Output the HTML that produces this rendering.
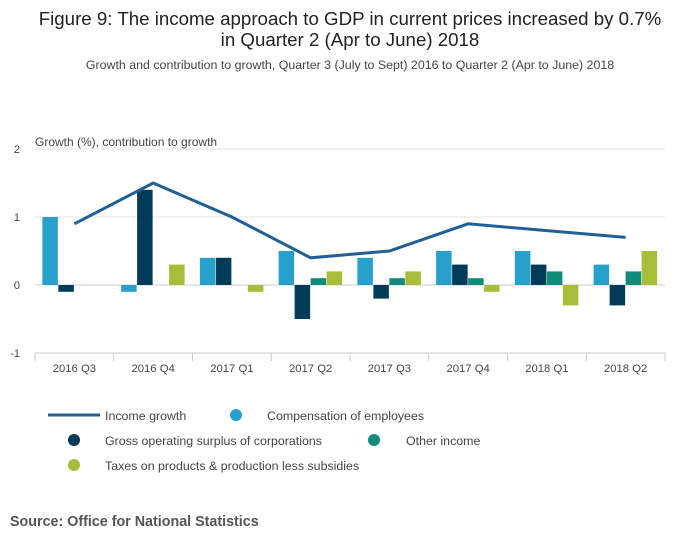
<!DOCTYPE html>
<html><head><meta charset="utf-8"><style>
body{margin:0;background:#fff;font-family:"Liberation Sans",sans-serif;}
#wrap{position:relative;width:700px;height:549px;overflow:hidden;}
</style></head><body>
<div id="wrap">
<svg id="svg" width="700" height="549" xmlns="http://www.w3.org/2000/svg">
<text x="350" y="25" text-anchor="middle" font-size="18.7" fill="#222">Figure 9: The income approach to GDP in current prices increased by 0.7%</text>
<text x="350" y="46" text-anchor="middle" font-size="18.7" fill="#222">in Quarter 2 (Apr to June) 2018</text>
<text x="350" y="69" text-anchor="middle" font-size="12.4" fill="#444">Growth and contribution to growth, Quarter 3 (July to Sept) 2016 to Quarter 2 (Apr to June) 2018</text>
<text x="35" y="146" font-size="12" fill="#444">Growth (%), contribution to growth</text>
<g id="grid"></g><g id="bars"></g><g id="line"></g><g id="xaxis"></g>
<g font-size="12.4" fill="#444">
<line x1="48" y1="415" x2="100" y2="415" stroke="#206095" stroke-width="3"/>
<text x="105" y="420">Income growth</text>
<circle cx="236" cy="415" r="6" fill="#27a0cc"/>
<text x="267" y="420">Compensation of employees</text>
<circle cx="74" cy="440" r="6" fill="#003c57"/>
<text x="105" y="445">Gross operating surplus of corporations</text>
<circle cx="374" cy="440" r="6" fill="#118c7b"/>
<text x="406" y="445">Other income</text>
<circle cx="74" cy="465" r="6" fill="#a8bd3a"/>
<text x="105" y="470">Taxes on products &amp; production less subsidies</text>
</g>
<text x="10" y="526" font-size="14.3" font-weight="bold" fill="#555">Source: Office for National Statistics</text>
</svg></div>
<script>
const categories=["2016 Q3","2016 Q4","2017 Q1","2017 Q2","2017 Q3","2017 Q4","2018 Q1","2018 Q2"];
const compensation=[1.0,-0.1,0.4,0.5,0.4,0.5,0.5,0.3];
const grossOperating=[-0.1,1.4,0.4,-0.5,-0.2,0.3,0.3,-0.3];
const otherIncome=[0,0,0,0.1,0.1,0.1,0.2,0.2];
const taxes=[0,0.3,-0.1,0.2,0.2,-0.1,-0.3,0.5];
const incomeGrowth=[0.9,1.5,1.0,0.4,0.5,0.9,0.8,0.7];
const yTicks=[2,1,0,-1];
const NS="http://www.w3.org/2000/svg";
const x0=35,x1=665,bw=(x1-x0)/categories.length;
const y=v=>285-v*68;
const cx=i=>x0+bw*(i+0.5);
function mk(t,a,p){const e=document.createElementNS(NS,t);for(const k in a)e.setAttribute(k,a[k]);p.appendChild(e);return e;}
const grid=document.getElementById('grid');
yTicks.forEach(t=>{
 const l=mk('line',{x1:x0,x2:x1,y1:y(t),y2:y(t),stroke:t===0?'#ccc':'#e6e6e6'},grid);
 
 
 const tx=mk('text',{x:20,y:y(t)+4,'font-size':11,fill:'#444','text-anchor':'end'},grid);tx.textContent=t;
 
 
});
const xa=document.getElementById('xaxis');
const ax=mk('line',{x1:x0,x2:x1,y1:353,y2:353,stroke:'#ccc'},xa);


categories.forEach((c,i)=>{
 const tk=mk('line',{x1:x0+bw*i,x2:x0+bw*i,y1:353,y2:361,stroke:'#ccc'},xa);
 
 
 const t=mk('text',{x:cx(i),y:372,'font-size':11.3,fill:'#444','text-anchor':'middle'},xa);t.textContent=c;
 
 
});
const tkl=mk('line',{x1:x1,x2:x1,y1:353,y2:361,stroke:'#ccc'},xa);


const series=[[compensation,'#27a0cc','comp'],[grossOperating,'#003c57','gross'],[otherIncome,'#118c7b','other'],[taxes,'#a8bd3a','taxes']];
const bars=document.getElementById('bars');const w=16;
series.forEach((s,si)=>{s[0].forEach((v,i)=>{
 const bx=cx(i)-32+si*w;
 const r=mk('rect',{x:bx,y:Math.min(y(v),y(0)),width:w-0.5,height:Math.abs(y(v)-y(0)),fill:s[1]},bars);
 
 
});});
const pts=incomeGrowth.map((v,i)=>cx(i)+','+y(v)).join(' ');
const pl=mk('polyline',{points:pts,fill:'none',stroke:'#206095','stroke-width':3},document.getElementById('line'));


</script>
</body></html>
